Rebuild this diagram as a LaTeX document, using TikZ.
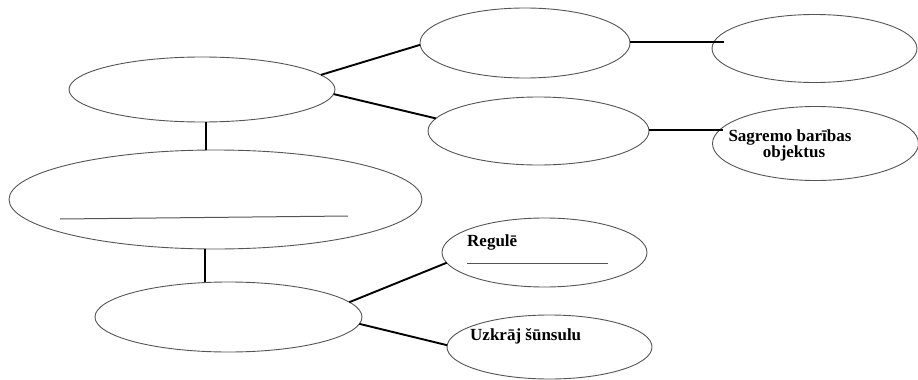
\documentclass[tikz,border=0pt]{standalone}
\usepackage{fontspec}
\setmainfont{Liberation Serif}
\usetikzlibrary{shapes.geometric}
\definecolor{outl}{RGB}{85,85,85}
\begin{document}
\begin{tikzpicture}[x=1pt,y=-1pt,
  oval/.style={ellipse,draw=outl,line width=0.9pt,inner sep=0pt,outer sep=0pt},
  link/.style={draw=black,line width=1.9pt},
  lbl/.style={font=\fontsize{17}{17}\selectfont\bfseries,inner sep=0pt,text=black},
  rule/.style={draw=outl,line width=1pt}]
\useasboundingbox[fill=white] (0,0) rectangle (918,380);
% ellipses
\node[oval,minimum width=266pt,minimum height=65pt] (A) at (202,89.5) {};
\node[oval,minimum width=210pt,minimum height=70pt] (B) at (525,43) {};
\node[oval,minimum width=205pt,minimum height=68pt] (C) at (814.5,48.5) {};
\node[oval,minimum width=221pt,minimum height=68pt] (D) at (538.5,131) {};
\node[oval,minimum width=206pt,minimum height=74pt] (E) at (815.5,143.5) {};
\node[oval,minimum width=413pt,minimum height=99pt] (F) at (215.5,199.5) {};
\node[oval,minimum width=267pt,minimum height=70pt] (G) at (228.5,317) {};
\node[oval,minimum width=205pt,minimum height=69pt] (H) at (544.5,252.5) {};
\node[oval,minimum width=205pt,minimum height=64pt] (I) at (549.5,347) {};
% texts
\node[lbl,anchor=base] (t1) at (790,141.5) {Sagremo barības};
\node[lbl,anchor=base] (t2) at (794,157.5) {objektus};
\node[lbl,anchor=base west] (t3) at (467,246.5) {Regulē};
\node[lbl,anchor=base west] (t4) at (470,340.5) {Uzkrāj šūnsulu};
% blank answer lines
\draw[rule] (60,219) -- (348,216);
\draw[rule] (467,263.5) -- (608,263.5);
% free ends
\coordinate (bc) at (724,42);
\coordinate (de) at (723,130);
% connectors
\draw[link] (A.7) -- (B.181);
\draw[link] (A.-2) -- (D.173);
\draw[link] (B.east |- bc) -- (bc);
\draw[link] (D.east |- de) -- (de);
\draw[link] ([xshift=4pt]A.south) -- ([xshift=-9.5pt]F.north);
\draw[link] ([xshift=-10.5pt]F.south) -- ([xshift=-23.5pt]G.north);
\draw[link] (G.7) -- (H.186);
\draw[link] (G.-3) -- (I.179);
\end{tikzpicture}
\end{document}
